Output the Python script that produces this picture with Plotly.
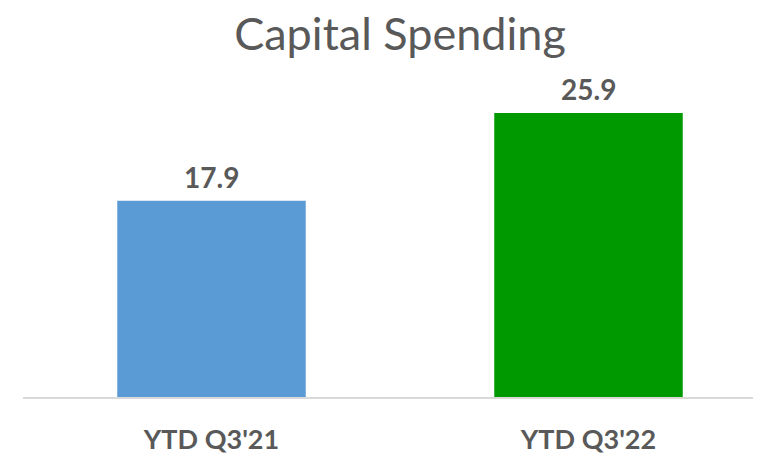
import plotly.graph_objects as go

categories = ["YTD Q3'21", "YTD Q3'22"]
values = [17.9, 25.9]
value_labels = ["17.9", "25.9"]
colors = ["#5B9BD5", "#009900"]

W, H = 753, 447

fig = go.Figure()
fig.add_trace(go.Bar(
    x=categories,
    y=values,
    width=0.5,
    marker=dict(color=colors, line=dict(width=0)),
    hoverinfo="skip",
))

for c, v, t in zip(categories, values, value_labels):
    fig.add_annotation(x=c, y=v, text=t, showarrow=False, yanchor="bottom",
                       yshift=5,
                       font=dict(family="Lato", size=28, color="#595959", weight="bold"))

fig.update_layout(
    width=W, height=H,
    margin=dict(l=15, r=0, t=36, b=53),
    paper_bgcolor="white", plot_bgcolor="white",
    showlegend=False,
    title=dict(text="Capital Spending", x=392 / W, xanchor="center",
               y=1 - 26 / H, yanchor="middle", yref="container",
               font=dict(family="Lato", size=45, color="#595959")),
    xaxis=dict(range=[-0.5, 738 / 377 - 0.5], showgrid=False, zeroline=False,
               showline=True, linecolor="#D9D9D9", linewidth=2,
               ticks="", ticklabelstandoff=18,
               tickfont=dict(family="Lato", size=27, color="#595959", weight="bold")),
    yaxis=dict(range=[0, 32.2], visible=False, showgrid=False, zeroline=False),
)

fig.write_html("out.html")
